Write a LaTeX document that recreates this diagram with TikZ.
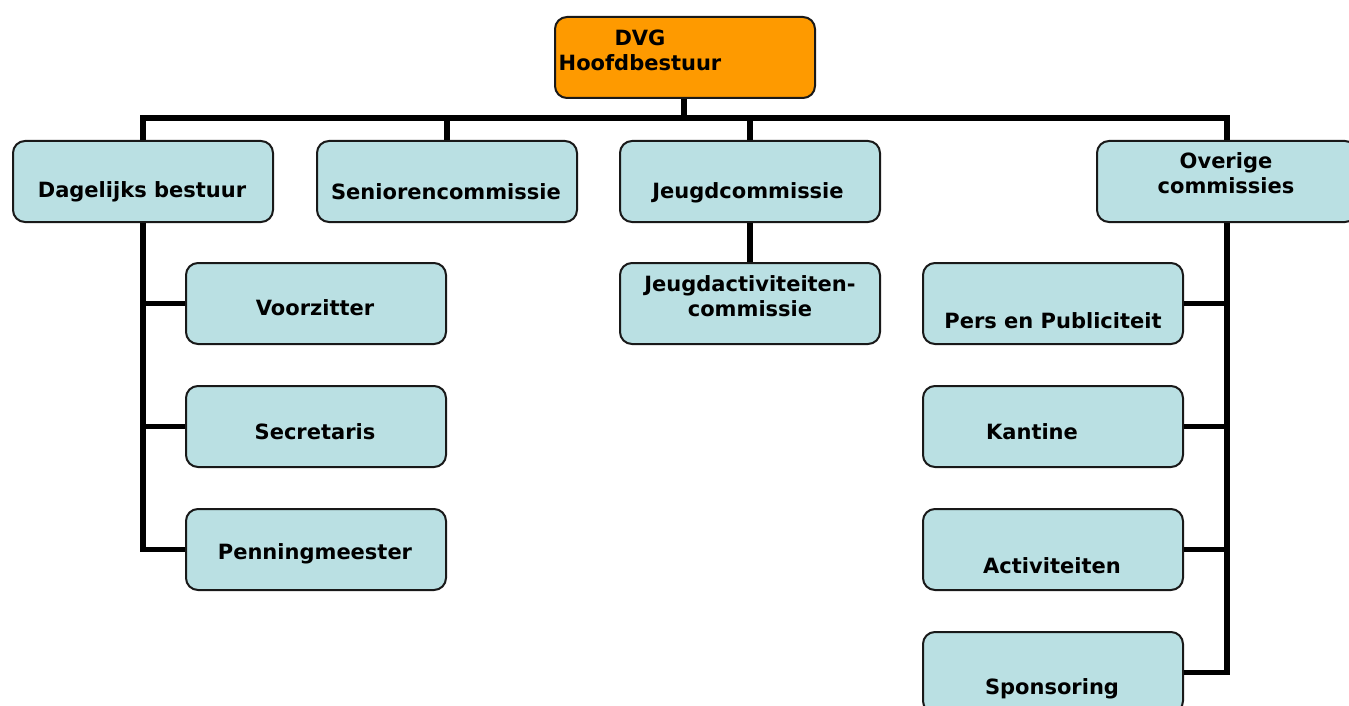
\documentclass[tikz,border=0pt]{standalone}
\usepackage{fontspec}
\setmainfont{DejaVu Sans}
\definecolor{boxblue}{HTML}{BAE0E3}
\definecolor{boxorange}{HTML}{FE9A00}
\begin{document}
\begin{tikzpicture}[x=1pt,y=-1pt,
  box/.style={draw=black!90,line width=2pt,rounded corners=12pt,fill=boxblue,minimum width=260pt,minimum height=81pt,inner sep=0pt,anchor=north west},
  lbl/.style={font=\bfseries\fontsize{21}{25}\selectfont,align=center,inner sep=0pt},
  conn/.style={line width=5.5pt}]
\useasboundingbox (0,0) rectangle (1349,706);
\clip (0,0) rectangle (1349,706);
% boxes
\node[box,fill=boxorange] (top) at (554,16) {};
\node[box] (dag) at (12,140) {};
\node[box] (sen) at (316,140) {};
\node[box] (jeu) at (619,140) {};
\node[box] (ove) at (1096,140) {};
\node[box] (voo) at (185,262) {};
\node[box] (sec) at (185,385) {};
\node[box] (pen) at (185,508) {};
\node[box] (jac) at (619,262) {};
\node[box] (per) at (922,262) {};
\node[box] (kan) at (922,385) {};
\node[box] (act) at (922,508) {};
\node[box] (spo) at (922,631) {};
% labels
\node[lbl] (ttop) at (640,50) {DVG\\Hoofdbestuur};
\node[lbl] (tdag) at (142,192) {Dagelijks bestuur};
\node[lbl] (tsen) at (446,192) {Seniorencommissie};
\node[lbl] (tjeu) at (748,193) {Jeugdcommissie};
\node[lbl] (tove) at (1226,173) {Overige\\commissies};
\node[lbl] (tvoo) at (315,308) {Voorzitter};
\node[lbl] (tsec) at (315,432) {Secretaris};
\node[lbl] (tpen) at (315,554) {Penningmeester};
\node[lbl] (tjac) at (750,296) {Jeugdactiviteiten-\\commissie};
\node[lbl] (tper) at (1053,321) {Pers en Publiciteit};
\node[lbl] (tkan) at (1032,432) {Kantine};
\node[lbl] (tact) at (1052,566) {Activiteiten};
\node[lbl] (tspo) at (1052,689) {Sponsoring};
% connectors
\coordinate (bus) at (684,118);
\draw[conn] (top.south -| bus) -- (bus);
\draw[conn] (dag.north) |- (ove.north |- bus) -- (ove.north);
\draw[conn] (sen.north) -- (sen.north |- bus);
\draw[conn] (jeu.north) -- (jeu.north |- bus);
\draw[conn] (jeu.south) -- (jac.north);
\draw[conn] (dag.south) |- (pen.west);
\draw[conn] (dag.south |- voo.west) -- (voo.west);
\draw[conn] (dag.south |- sec.west) -- (sec.west);
\draw[conn] (ove.south) |- (spo.east);
\draw[conn] (ove.south |- per.east) -- (per.east);
\draw[conn] (ove.south |- kan.east) -- (kan.east);
\draw[conn] (ove.south |- act.east) -- (act.east);
\end{tikzpicture}
\end{document}
